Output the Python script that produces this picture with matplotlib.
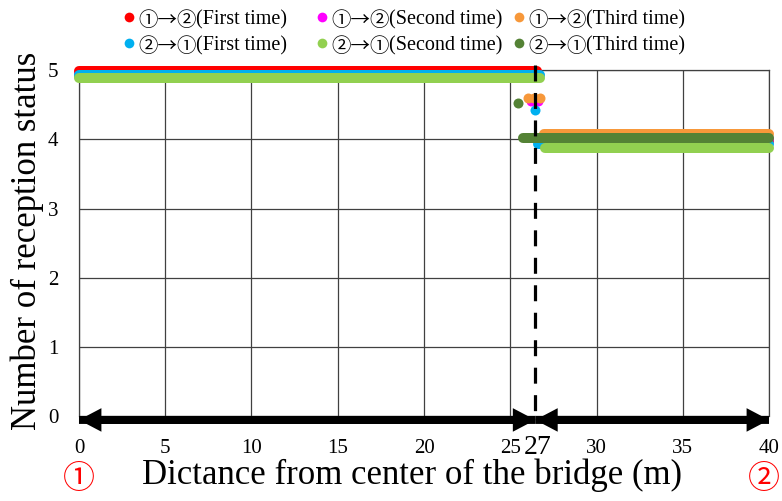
import matplotlib
matplotlib.use("Agg")
import matplotlib.pyplot as plt
from matplotlib.lines import Line2D
from matplotlib.patches import FancyArrow

plt.rcParams['font.family'] = ['Liberation Serif', 'Noto Sans CJK JP', 'DejaVu Sans']

# series (legend order: row 1 = ①→②, row 2 = ②→①)
directions = ['①→②', '①→②', '①→②', '②→①', '②→①', '②→①']
runs = ['(First time)', '(Second time)', '(Third time)',
        '(First time)', '(Second time)', '(Third time)']
colors = ['#FF0000', '#FF00FF', '#F7983A', '#00B0F0', '#92D050', '#548235']

# upper plateau (5 stations received)
high_start = [0, 0, 0, 0, 0, 0]
high_end = [26.57, 26.55, 26.55, 26.7, 26.72, 26.5]
high_value = [4.98, 4.96, 4.96, 4.93, 4.89, 4.91]
high_order = [2, 1, 5, 0, 3, 4]

# lower plateau (4 stations received)
low_start = [27.0, 27.0, 26.97, 26.6, 27.0, 25.76]
low_end = [40, 40, 40, 40, 40, 40]
low_value = [3.98, 4.0, 4.08, 3.93, 3.87, 4.02]
low_order = [0, 1, 3, 4, 2, 5]

# points in the transition zone
trans_series = [1, 2, 3, 5]
trans_x = [[26.2, 26.6], [26.0, 26.35, 26.7], [26.45], [25.43]]
trans_y = [[4.55, 4.55], [4.6, 4.6, 4.6], [4.42], [4.52]]

boundary = 26.45
xticks = [0, 5, 10, 15, 20, 25, 30, 35, 40]
yticks = [0, 1, 2, 3, 4, 5]

W, H = 782, 501
fig = plt.figure(figsize=(W / 100, H / 100), dpi=100)
ax = fig.add_axes([0.101, 0.1687, 0.8824, 0.6916])

band = 7.2
for i in high_order:
    ax.plot([high_start[i], high_end[i]], [high_value[i], high_value[i]],
            color=colors[i], lw=band, solid_capstyle='round', zorder=3, clip_on=False)
for i in low_order:
    ax.plot([low_start[i], low_end[i]], [low_value[i], low_value[i]],
            color=colors[i], lw=band, solid_capstyle='round', zorder=3, clip_on=False)
for k, i in enumerate(trans_series):
    ax.plot(trans_x[k], trans_y[k], 'o', ms=band, color=colors[i], mec='none',
            zorder=4, clip_on=False)

# border between the two areas
ax.plot([boundary, boundary], [5.07, -0.07], color='black', lw=2.3,
        ls=(0, (5, 3.6)), clip_on=False, zorder=6)

# double headed arrows along the bottom (two overlapping single-headed ones)
arrow_y = -0.05
for a, b in [(0, boundary), (boundary, 40)]:
    for start, end in ((a, b), (b, a)):
        ax.add_patch(FancyArrow(start, arrow_y, end - start, 0, width=0.115,
                                head_width=0.34, head_length=1.3,
                                length_includes_head=True, color='black', lw=0,
                                clip_on=False, zorder=7))

ax.set_xlim(0, 40)
ax.set_ylim(0, 5)
ax.set_xticks(xticks)
ax.set_yticks(yticks)
ax.tick_params(length=0, labelsize=15)
ax.tick_params(axis='x', pad=16)
ax.tick_params(axis='y', pad=15)
ax.text(boundary + 0.15, -0.45, '27', fontsize=20, ha='center', va='center')

ax.grid(True, color='#404040', lw=0.9)
ax.set_axisbelow(True)
for side in ['left', 'top', 'right']:
    ax.spines[side].set_color('#404040')
    ax.spines[side].set_linewidth(0.9)
ax.spines['bottom'].set_visible(False)

fig.text(0.0345, 0.519, 'Number of reception status', rotation=90,
         fontsize=25, ha='center', va='center')
fig.text(0.527, 0.052, 'Dictance from center of the bridge (m)',
         fontsize=25, ha='center', va='center')
fig.text(79 / W, 0.044, '①', color='red', fontsize=23, ha='center', va='center',
         family='Noto Sans CJK JP')
fig.text(764 / W, 0.044, '②', color='red', fontsize=23, ha='center', va='center',
         family='Noto Sans CJK JP')

# legend built by hand: circled numbers in a CJK font, the rest in serif
dot_x = [129, 322, 519]
row_y = [20, 46]
for i in range(6):
    r, c = divmod(i, 3)
    xf, yf = dot_x[c] / W, 1 - row_y[r] / H
    fig.add_artist(Line2D([xf], [yf + 0.006], marker='o', ls='', color=colors[i],
                          ms=7, mec='none', transform=fig.transFigure))
    t = fig.text(xf + 9 / W, yf, directions[i], fontsize=14, family='Noto Sans CJK JP',
                 ha='left', va='center')
    ax.annotate(runs[i], xy=(1, 0.5), xycoords=t, fontsize=14.5, ha='left', va='center',
                annotation_clip=False)

fig.savefig('out.png', dpi=100)
